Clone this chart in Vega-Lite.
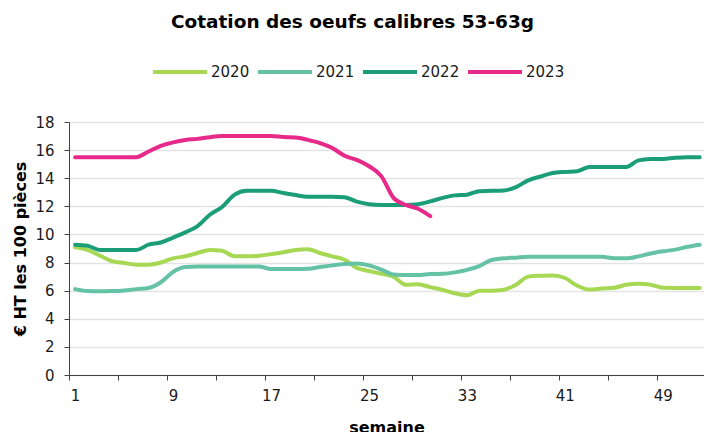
{
  "$schema": "https://vega.github.io/schema/vega-lite/v6.json",
  "autosize": {"type": "none"},
  "padding": {"left": 69, "top": 122, "right": 0, "bottom": 57},
  "width": 635,
  "height": 253,
  "background": "white",
  "config": {
    "font": "DejaVu Sans",
    "view": {"stroke": null}
  },
  "title": {
    "text": "Cotation des oeufs calibres 53-63g",
    "fontSize": 18.5,
    "fontWeight": "bold",
    "font": "DejaVu Sans",
    "color": "#000000",
    "anchor": "middle",
    "dx": -34,
    "offset": 12
  },
  "datasets": {
    "oeufs": [
      {"annee": "2020", "semaine": 1, "prix": 9.08}, {"annee": "2020", "semaine": 2, "prix": 8.9}, {"annee": "2020", "semaine": 3, "prix": 8.5}, {"annee": "2020", "semaine": 4, "prix": 8.1}, {"annee": "2020", "semaine": 5, "prix": 7.97}, {"annee": "2020", "semaine": 6, "prix": 7.85}, {"annee": "2020", "semaine": 7, "prix": 7.85}, {"annee": "2020", "semaine": 8, "prix": 8.0}, {"annee": "2020", "semaine": 9, "prix": 8.3}, {"annee": "2020", "semaine": 10, "prix": 8.45}, {"annee": "2020", "semaine": 11, "prix": 8.68}, {"annee": "2020", "semaine": 12, "prix": 8.9}, {"annee": "2020", "semaine": 13, "prix": 8.84}, {"annee": "2020", "semaine": 14, "prix": 8.45}, {"annee": "2020", "semaine": 15, "prix": 8.44}, {"annee": "2020", "semaine": 16, "prix": 8.48}, {"annee": "2020", "semaine": 17, "prix": 8.6}, {"annee": "2020", "semaine": 18, "prix": 8.73}, {"annee": "2020", "semaine": 19, "prix": 8.9}, {"annee": "2020", "semaine": 20, "prix": 8.95}, {"annee": "2020", "semaine": 21, "prix": 8.68}, {"annee": "2020", "semaine": 22, "prix": 8.44}, {"annee": "2020", "semaine": 23, "prix": 8.2}, {"annee": "2020", "semaine": 24, "prix": 7.62}, {"annee": "2020", "semaine": 25, "prix": 7.4}, {"annee": "2020", "semaine": 26, "prix": 7.2}, {"annee": "2020", "semaine": 27, "prix": 7.0}, {"annee": "2020", "semaine": 28, "prix": 6.42}, {"annee": "2020", "semaine": 29, "prix": 6.45}, {"annee": "2020", "semaine": 30, "prix": 6.25}, {"annee": "2020", "semaine": 31, "prix": 6.05}, {"annee": "2020", "semaine": 32, "prix": 5.82}, {"annee": "2020", "semaine": 33, "prix": 5.67}, {"annee": "2020", "semaine": 34, "prix": 6.0}, {"annee": "2020", "semaine": 35, "prix": 6.0}, {"annee": "2020", "semaine": 36, "prix": 6.07}, {"annee": "2020", "semaine": 37, "prix": 6.42}, {"annee": "2020", "semaine": 38, "prix": 7.0}, {"annee": "2020", "semaine": 39, "prix": 7.06}, {"annee": "2020", "semaine": 40, "prix": 7.08}, {"annee": "2020", "semaine": 41, "prix": 6.9}, {"annee": "2020", "semaine": 42, "prix": 6.35}, {"annee": "2020", "semaine": 43, "prix": 6.08}, {"annee": "2020", "semaine": 44, "prix": 6.15}, {"annee": "2020", "semaine": 45, "prix": 6.2}, {"annee": "2020", "semaine": 46, "prix": 6.42}, {"annee": "2020", "semaine": 47, "prix": 6.49}, {"annee": "2020", "semaine": 48, "prix": 6.42}, {"annee": "2020", "semaine": 49, "prix": 6.2}, {"annee": "2020", "semaine": 50, "prix": 6.19}, {"annee": "2020", "semaine": 51, "prix": 6.19}, {"annee": "2020", "semaine": 52, "prix": 6.19},
      {"annee": "2021", "semaine": 1, "prix": 6.11}, {"annee": "2021", "semaine": 2, "prix": 5.97}, {"annee": "2021", "semaine": 3, "prix": 5.95}, {"annee": "2021", "semaine": 4, "prix": 5.97}, {"annee": "2021", "semaine": 5, "prix": 6.02}, {"annee": "2021", "semaine": 6, "prix": 6.11}, {"annee": "2021", "semaine": 7, "prix": 6.19}, {"annee": "2021", "semaine": 8, "prix": 6.6}, {"annee": "2021", "semaine": 9, "prix": 7.33}, {"annee": "2021", "semaine": 10, "prix": 7.68}, {"annee": "2021", "semaine": 11, "prix": 7.72}, {"annee": "2021", "semaine": 12, "prix": 7.72}, {"annee": "2021", "semaine": 13, "prix": 7.72}, {"annee": "2021", "semaine": 14, "prix": 7.72}, {"annee": "2021", "semaine": 15, "prix": 7.72}, {"annee": "2021", "semaine": 16, "prix": 7.72}, {"annee": "2021", "semaine": 17, "prix": 7.54}, {"annee": "2021", "semaine": 18, "prix": 7.54}, {"annee": "2021", "semaine": 19, "prix": 7.54}, {"annee": "2021", "semaine": 20, "prix": 7.56}, {"annee": "2021", "semaine": 21, "prix": 7.68}, {"annee": "2021", "semaine": 22, "prix": 7.8}, {"annee": "2021", "semaine": 23, "prix": 7.9}, {"annee": "2021", "semaine": 24, "prix": 7.93}, {"annee": "2021", "semaine": 25, "prix": 7.8}, {"annee": "2021", "semaine": 26, "prix": 7.5}, {"annee": "2021", "semaine": 27, "prix": 7.15}, {"annee": "2021", "semaine": 28, "prix": 7.11}, {"annee": "2021", "semaine": 29, "prix": 7.11}, {"annee": "2021", "semaine": 30, "prix": 7.18}, {"annee": "2021", "semaine": 31, "prix": 7.2}, {"annee": "2021", "semaine": 32, "prix": 7.3}, {"annee": "2021", "semaine": 33, "prix": 7.48}, {"annee": "2021", "semaine": 34, "prix": 7.75}, {"annee": "2021", "semaine": 35, "prix": 8.18}, {"annee": "2021", "semaine": 36, "prix": 8.3}, {"annee": "2021", "semaine": 37, "prix": 8.35}, {"annee": "2021", "semaine": 38, "prix": 8.41}, {"annee": "2021", "semaine": 39, "prix": 8.41}, {"annee": "2021", "semaine": 40, "prix": 8.41}, {"annee": "2021", "semaine": 41, "prix": 8.41}, {"annee": "2021", "semaine": 42, "prix": 8.41}, {"annee": "2021", "semaine": 43, "prix": 8.41}, {"annee": "2021", "semaine": 44, "prix": 8.41}, {"annee": "2021", "semaine": 45, "prix": 8.3}, {"annee": "2021", "semaine": 46, "prix": 8.3}, {"annee": "2021", "semaine": 47, "prix": 8.44}, {"annee": "2021", "semaine": 48, "prix": 8.65}, {"annee": "2021", "semaine": 49, "prix": 8.8}, {"annee": "2021", "semaine": 50, "prix": 8.92}, {"annee": "2021", "semaine": 51, "prix": 9.12}, {"annee": "2021", "semaine": 52, "prix": 9.27},
      {"annee": "2022", "semaine": 1, "prix": 9.27}, {"annee": "2022", "semaine": 2, "prix": 9.2}, {"annee": "2022", "semaine": 3, "prix": 8.9}, {"annee": "2022", "semaine": 4, "prix": 8.9}, {"annee": "2022", "semaine": 5, "prix": 8.9}, {"annee": "2022", "semaine": 6, "prix": 8.9}, {"annee": "2022", "semaine": 7, "prix": 9.27}, {"annee": "2022", "semaine": 8, "prix": 9.43}, {"annee": "2022", "semaine": 9, "prix": 9.78}, {"annee": "2022", "semaine": 10, "prix": 10.15}, {"annee": "2022", "semaine": 11, "prix": 10.6}, {"annee": "2022", "semaine": 12, "prix": 11.4}, {"annee": "2022", "semaine": 13, "prix": 11.95}, {"annee": "2022", "semaine": 14, "prix": 12.82}, {"annee": "2022", "semaine": 15, "prix": 13.1}, {"annee": "2022", "semaine": 16, "prix": 13.1}, {"annee": "2022", "semaine": 17, "prix": 13.1}, {"annee": "2022", "semaine": 18, "prix": 12.95}, {"annee": "2022", "semaine": 19, "prix": 12.8}, {"annee": "2022", "semaine": 20, "prix": 12.68}, {"annee": "2022", "semaine": 21, "prix": 12.68}, {"annee": "2022", "semaine": 22, "prix": 12.68}, {"annee": "2022", "semaine": 23, "prix": 12.65}, {"annee": "2022", "semaine": 24, "prix": 12.33}, {"annee": "2022", "semaine": 25, "prix": 12.15}, {"annee": "2022", "semaine": 26, "prix": 12.1}, {"annee": "2022", "semaine": 27, "prix": 12.1}, {"annee": "2022", "semaine": 28, "prix": 12.1}, {"annee": "2022", "semaine": 29, "prix": 12.15}, {"annee": "2022", "semaine": 30, "prix": 12.35}, {"annee": "2022", "semaine": 31, "prix": 12.6}, {"annee": "2022", "semaine": 32, "prix": 12.78}, {"annee": "2022", "semaine": 33, "prix": 12.83}, {"annee": "2022", "semaine": 34, "prix": 13.08}, {"annee": "2022", "semaine": 35, "prix": 13.1}, {"annee": "2022", "semaine": 36, "prix": 13.13}, {"annee": "2022", "semaine": 37, "prix": 13.37}, {"annee": "2022", "semaine": 38, "prix": 13.85}, {"annee": "2022", "semaine": 39, "prix": 14.12}, {"annee": "2022", "semaine": 40, "prix": 14.37}, {"annee": "2022", "semaine": 41, "prix": 14.45}, {"annee": "2022", "semaine": 42, "prix": 14.5}, {"annee": "2022", "semaine": 43, "prix": 14.8}, {"annee": "2022", "semaine": 44, "prix": 14.8}, {"annee": "2022", "semaine": 45, "prix": 14.8}, {"annee": "2022", "semaine": 46, "prix": 14.8}, {"annee": "2022", "semaine": 47, "prix": 15.27}, {"annee": "2022", "semaine": 48, "prix": 15.36}, {"annee": "2022", "semaine": 49, "prix": 15.37}, {"annee": "2022", "semaine": 50, "prix": 15.46}, {"annee": "2022", "semaine": 51, "prix": 15.5}, {"annee": "2022", "semaine": 52, "prix": 15.5},
      {"annee": "2023", "semaine": 1, "prix": 15.5}, {"annee": "2023", "semaine": 2, "prix": 15.5}, {"annee": "2023", "semaine": 3, "prix": 15.5}, {"annee": "2023", "semaine": 4, "prix": 15.5}, {"annee": "2023", "semaine": 5, "prix": 15.5}, {"annee": "2023", "semaine": 6, "prix": 15.5}, {"annee": "2023", "semaine": 7, "prix": 15.9}, {"annee": "2023", "semaine": 8, "prix": 16.3}, {"annee": "2023", "semaine": 9, "prix": 16.55}, {"annee": "2023", "semaine": 10, "prix": 16.72}, {"annee": "2023", "semaine": 11, "prix": 16.8}, {"annee": "2023", "semaine": 12, "prix": 16.92}, {"annee": "2023", "semaine": 13, "prix": 17.0}, {"annee": "2023", "semaine": 14, "prix": 17.0}, {"annee": "2023", "semaine": 15, "prix": 17.0}, {"annee": "2023", "semaine": 16, "prix": 17.0}, {"annee": "2023", "semaine": 17, "prix": 17.0}, {"annee": "2023", "semaine": 18, "prix": 16.93}, {"annee": "2023", "semaine": 19, "prix": 16.9}, {"annee": "2023", "semaine": 20, "prix": 16.73}, {"annee": "2023", "semaine": 21, "prix": 16.5}, {"annee": "2023", "semaine": 22, "prix": 16.15}, {"annee": "2023", "semaine": 23, "prix": 15.6}, {"annee": "2023", "semaine": 24, "prix": 15.3}, {"annee": "2023", "semaine": 25, "prix": 14.85}, {"annee": "2023", "semaine": 26, "prix": 14.15}, {"annee": "2023", "semaine": 27, "prix": 12.6}, {"annee": "2023", "semaine": 28, "prix": 12.1}, {"annee": "2023", "semaine": 29, "prix": 11.83}, {"annee": "2023", "semaine": 30, "prix": 11.3}
    ]
  },
  "data": {"name": "oeufs"},
  "mark": {
    "type": "line",
    "interpolate": "monotone",
    "strokeWidth": 4,
    "strokeCap": "round",
    "strokeJoin": "round",
    "clip": false
  },
  "encoding": {
    "x": {
      "field": "semaine",
      "type": "quantitative",
      "scale": {"domain": [0.5, 52.35], "nice": false, "zero": false},
      "axis": {
        "title": "semaine",
        "titleFontSize": 16,
        "titleFontWeight": "bold",
        "titleColor": "#000000",
        "titlePadding": 16,
        "values": [0.5, 4.5, 8.5, 12.5, 16.5, 20.5, 24.5, 28.5, 32.5, 36.5, 40.5, 44.5, 48.5],
        "labelExpr": "(datum.value - 0.5) % 8 == 0 ? format(datum.value + 0.5, 'd') : ''",
        "labelOffset": 6,
        "labelFontSize": 15,
        "labelColor": "#1a1a1a",
        "labelPadding": 8,
        "labelFlush": false,
        "labelOverlap": false,
        "tickSize": 5,
        "tickColor": "#404040",
        "domainColor": "#404040",
        "domainWidth": 1,
        "grid": false
      }
    },
    "y": {
      "field": "prix",
      "type": "quantitative",
      "scale": {"domain": [0, 18], "nice": false},
      "axis": {
        "title": "€ HT les 100 pièces",
        "titleFontSize": 16,
        "titleFontWeight": "bold",
        "titleColor": "#000000",
        "titlePadding": 6,
        "values": [0, 2, 4, 6, 8, 10, 12, 14, 16, 18],
        "labelFontSize": 15,
        "labelColor": "#1a1a1a",
        "labelPadding": 10,
        "tickSize": 5,
        "tickColor": "#404040",
        "domainColor": "#404040",
        "domainWidth": 1,
        "grid": true,
        "gridColor": "#e3e3e3",
        "gridWidth": 1.5
      }
    },
    "color": {
      "field": "annee",
      "type": "nominal",
      "scale": {
        "domain": ["2020", "2021", "2022", "2023"],
        "range": ["#a6d854", "#66c2a5", "#1b9e77", "#e7298a"]
      },
      "legend": {
        "title": null,
        "orient": "none",
        "direction": "horizontal",
        "legendX": 82,
        "legendY": -79,
        "symbolType": "stroke",
        "symbolSize": 2916,
        "symbolStrokeWidth": 4,
        "labelFontSize": 15,
        "labelColor": "#1a1a1a",
        "labelOffset": 2,
        "columnPadding": 0
      }
    }
  }
}
